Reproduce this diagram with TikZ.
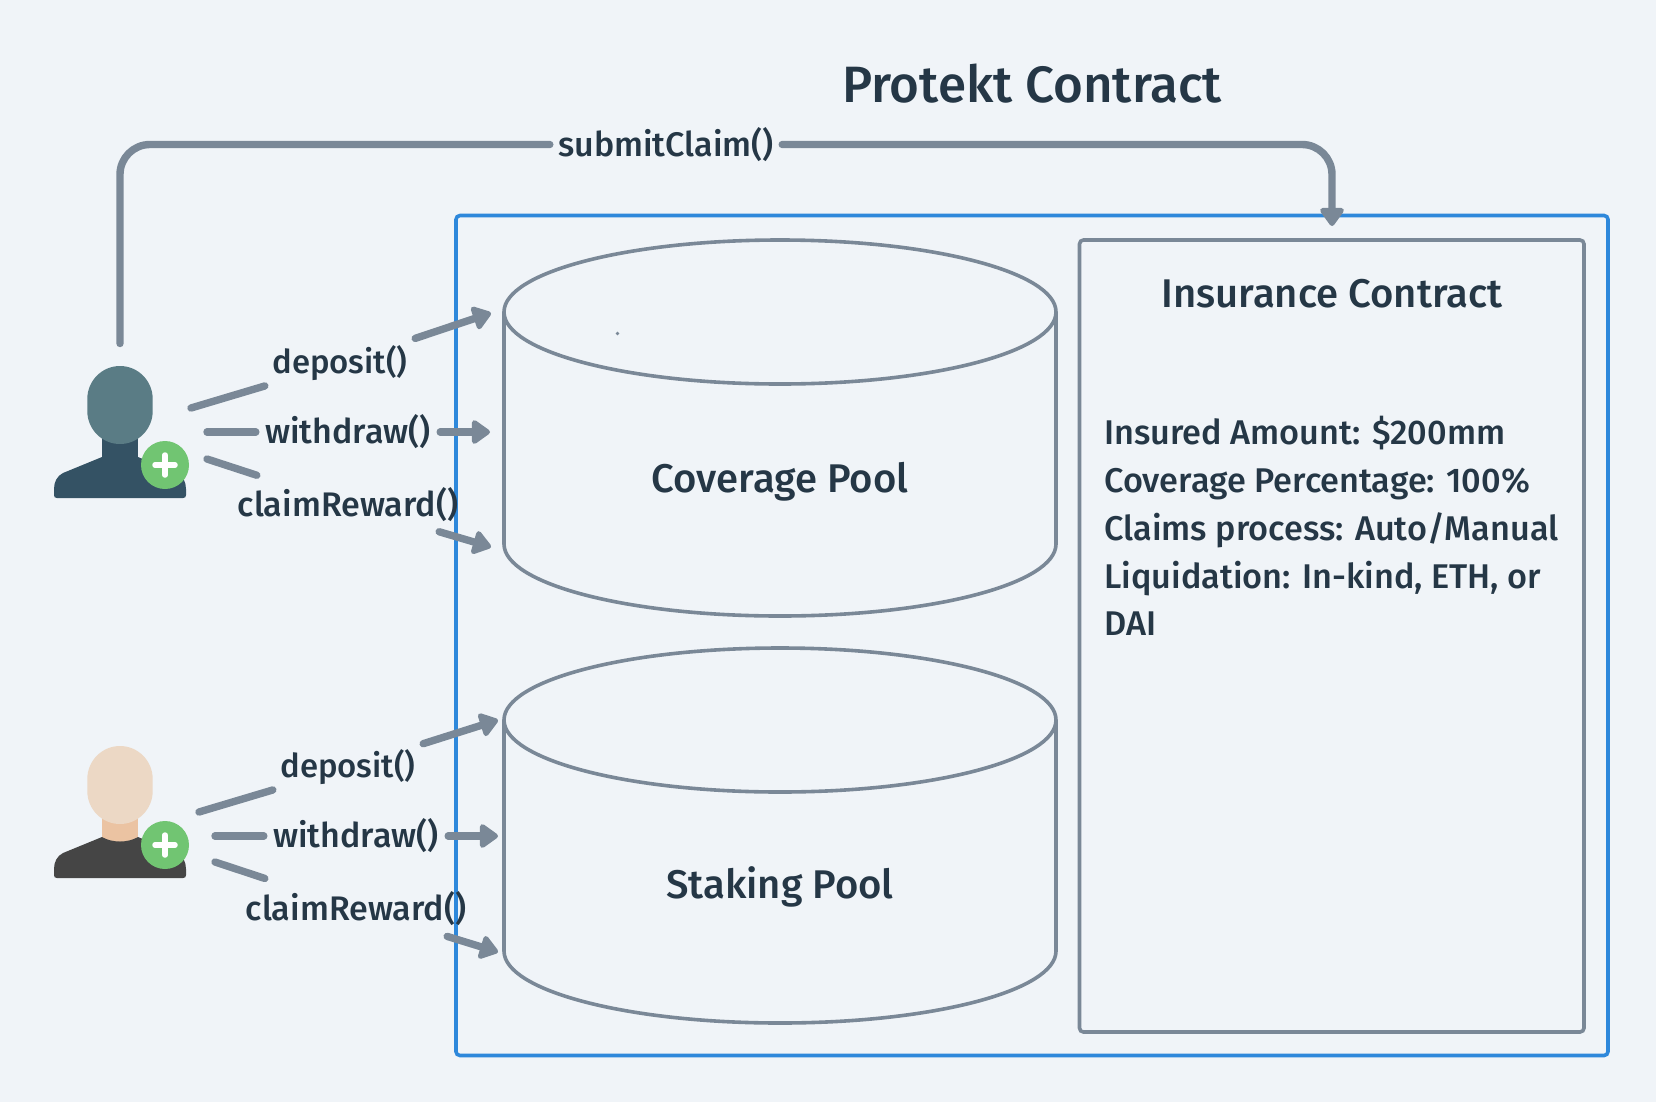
\documentclass[tikz,border=0pt]{standalone}
\usepackage{fontspec}
\setmainfont{Fira Sans Medium}
\usetikzlibrary{arrows.meta}
\definecolor{bgc}{HTML}{F0F4F8}
\definecolor{linec}{HTML}{7A8897}
\definecolor{bluec}{HTML}{2E88DB}
\definecolor{textc}{HTML}{253746}
\definecolor{headA}{HTML}{5A7C85}
\definecolor{bodyA}{HTML}{345264}
\definecolor{headB}{HTML}{ECD8C5}
\definecolor{neckB}{HTML}{EBC3A2}
\definecolor{bodyB}{HTML}{454545}
\definecolor{greenc}{HTML}{71C572}
\newcommand{\zw}[1]{\makebox[0pt][c]{#1}}
\tikzset{
  x=1bp,y=-1bp,
  txt/.style={text=textc,inner sep=0pt},
  lbl/.style={text=textc,inner sep=0pt,font=\fontsize{34.2}{40}\selectfont},
  conn/.style={draw=linec,line width=7.4bp,line cap=round,line join=round},
  arr/.style={conn,-{Triangle[length=20bp,width=27bp,round]}},
  pool/.style={draw=linec,line width=3.6bp},
}
\newcommand{\usericon}[5]{%
  \begin{scope}[yshift=-#1bp]
    \fill[#3] (102,420) -- (138,420) -- (138,462) -- (102,462) -- cycle;
    \fill[#4] (102,457) .. controls (112,463) and (128,463) .. (138,457)
      -- (177,473) .. controls (183,476) and (186,482) .. (186,489) -- (186,495)
      .. controls (186,497) and (185,498) .. (183,498) -- (57,498)
      .. controls (55,498) and (54,497) .. (54,495) -- (54,489)
      .. controls (54,482) and (57,476) .. (63,473) -- cycle;
    \fill[#2] (87.3,399) arc[start angle=180,end angle=0,x radius=32.7,y radius=-33]
      -- (152.7,411) arc[start angle=0,end angle=-180,x radius=32.7,y radius=-33] -- cycle;
    \node[circle,fill=greenc,inner sep=0pt,minimum size=48bp] (#5) at (165,465) {};
    \draw[white,line width=5.5bp,line cap=round] (155,465) -- (175,465) (165,455) -- (165,475);
  \end{scope}}
\begin{document}
\begin{tikzpicture}
\useasboundingbox (0,0) rectangle (1656,1102.4);
\fill[bgc] (0,0) rectangle (1656,1102.4);
% frames
\node[draw=bluec,line width=3.6bp,rounded corners=4bp,minimum width=1152bp,minimum height=840bp,inner sep=0pt] (frame) at (1032,635.5) {};
\node[draw=linec,line width=3.6bp,rounded corners=4bp,minimum width=504.5bp,minimum height=792bp,inner sep=0pt] (ins) at (1331.75,636) {};
% cylinders
\draw[pool] (504,312) -- (504,544) arc[start angle=180,end angle=360,x radius=276,y radius=-72] -- (1056,312);
\draw[pool] (780,312) ellipse[x radius=276,y radius=72];
\draw[pool] (504,720) -- (504,951) arc[start angle=180,end angle=360,x radius=276,y radius=-72] -- (1056,720);
\draw[pool] (780,720) ellipse[x radius=276,y radius=72];
\fill[linec] (617.5,333.5) circle[radius=1.8bp];
% users
\usericon{0}{headA}{bodyA}{bodyA}{userA}
\usericon{380}{headB}{neckB}{bodyB}{userB}
% texts
\node[txt,font=\fontsize{51.3}{60}\selectfont] (title) at (1032,83.5) {Protekt Contract};
\node[txt,font=\fontsize{40.2}{44}\selectfont] (insT) at (1332,294) {Insurance Contract};
\node[txt,font=\fontsize{40.2}{44}\selectfont] (cov) at (780,482) {Coverage Pool};
\node[txt,font=\fontsize{40.2}{44}\selectfont] (stk) at (780,887) {Staking Pool};
\node[txt,font=\fontsize{34.4}{48}\selectfont,anchor=north west,align=left] (body) at (1104,416) {Insured Amount: \$200mm\\Coverage Percentage: 100\%\\Claims process: Auto/Manual\\Liquidation: In-kind, ETH, or\\DAI};
% connector end points
\coordinate (a0) at (120,343.5);
\coordinate (a1) at (1332,226);
\coordinate (b1s) at (191,408); \coordinate (b1t) at (491,313);
\coordinate (b2s) at (207,432); \coordinate (b2t) at (490,432);
\coordinate (b3s) at (207,459); \coordinate (b3t) at (491,547);
\coordinate (c1s) at (199,812); \coordinate (c1t) at (498,720);
\coordinate (c2s) at (215,836); \coordinate (c2t) at (498,836);
\coordinate (c3s) at (215,862); \coordinate (c3t) at (498,952);
% labels: the zero-width text lets minimum width alone set the gap in the connector
\node[lbl,minimum width=232bp,minimum height=40bp] (sub) at (666,144.5) {\zw{submitClaim()}};
\node[lbl,minimum width=150bp,minimum height=70bp,font=\fontsize{33}{40}\selectfont] (d1) at (340,363.5) {\zw{deposit()}};
\node[lbl,minimum width=184bp,minimum height=70bp] (w1) at (348,432) {\zw{withdraw()}};
\node[lbl,minimum width=182bp,minimum height=70bp] (r1) at (348,505) {\zw{claimReward()}};
\node[lbl,minimum width=150bp,minimum height=70bp,font=\fontsize{33}{40}\selectfont] (d2) at (348,767.5) {\zw{deposit()}};
\node[lbl,minimum width=184bp,minimum height=70bp] (w2) at (356,836) {\zw{withdraw()}};
\node[lbl,minimum width=182bp,minimum height=70bp] (r2) at (356,908.5) {\zw{claimReward()}};
% connectors
\draw[conn,rounded corners=30bp] (a0) |- (sub);
\draw[arr,rounded corners=30bp] (sub) -| (a1);
\draw[conn] (b1s) -- (d1); \draw[arr] (d1) -- (b1t);
\draw[conn] (b2s) -- (w1); \draw[arr] (w1) -- (b2t);
\draw[conn] (b3s) -- (r1); \draw[arr] (r1) -- (b3t);
\draw[conn] (c1s) -- (d2); \draw[arr] (d2) -- (c1t);
\draw[conn] (c2s) -- (w2); \draw[arr] (w2) -- (c2t);
\draw[conn] (c3s) -- (r2); \draw[arr] (r2) -- (c3t);
\end{tikzpicture}
\end{document}
